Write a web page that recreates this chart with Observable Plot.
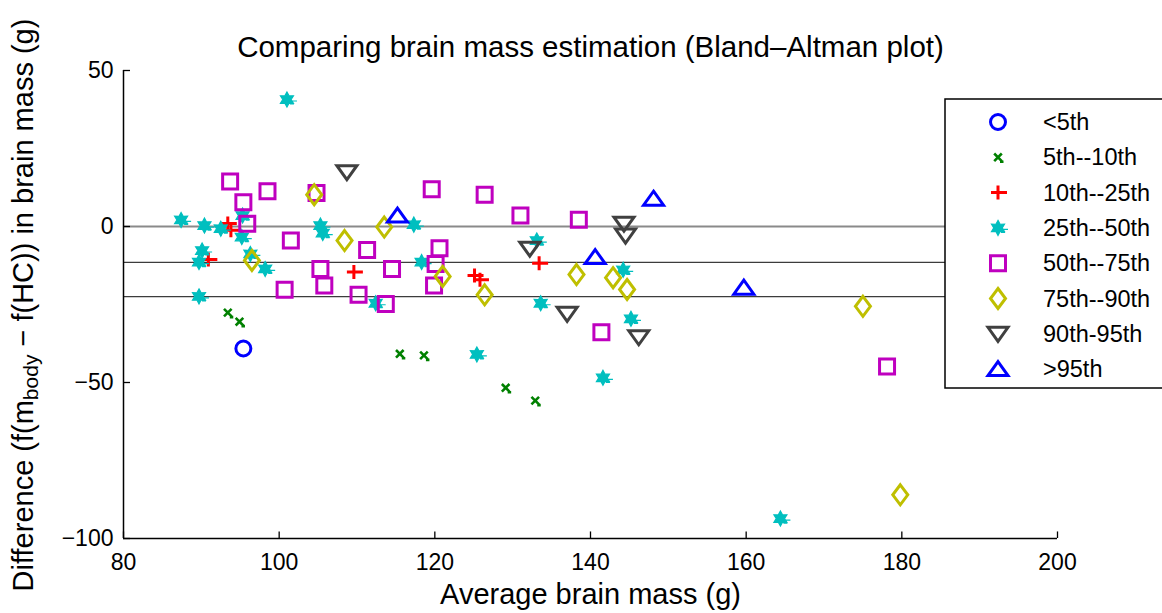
<!DOCTYPE html>
<html>
<head>
<meta charset="utf-8">
<script src="https://cdn.jsdelivr.net/npm/d3@7"></script>
<script src="https://cdn.jsdelivr.net/npm/@observablehq/plot@0.6"></script>
<style>
  html, body { margin: 0; padding: 0; background: #fff; }
  #chart { position: relative; width: 1162px; height: 613px; overflow: hidden; }
</style>
</head>
<body>
<div id="chart"></div>
<script>
// ---------- data ----------
const xTicks = [80, 100, 120, 140, 160, 180, 200];
const yTicks = [-100, -50, 0, 50];
const refLines = [0, -11.5, -22.5];

const seriesNames = ["<5th", "5th--10th", "10th--25th", "25th--50th", "50th--75th", "75th--90th", "90th-95th", ">95th"];

const below5 = [[95.4, -39.1]];
const p5to10 = [[93.4, -27.6], [94.9, -30.5], [115.5, -40.8], [118.6, -41.3], [129.1, -51.7], [132.9, -55.8]];
const p10to25 = [[93.4, 1.0], [93.8, -1.2], [90.9, -10.6], [109.6, -14.6], [125.1, -15.7], [125.8, -17.1], [133.4, -11.8]];
const p25to50 = [[87.4, 2.1], [90.4, 0.3], [92.5, -0.7], [95.3, 3.5], [95.2, -3.4], [90.1, -7.7], [89.7, -11.4],
  [96.3, -8.8], [98.2, -13.6], [89.7, -22.4], [101.0, 40.7], [105.3, 0.3], [105.6, -2.1], [117.3, 0.6],
  [118.3, -11.4], [112.4, -24.6], [133.1, -4.5], [144.2, -13.9], [133.6, -24.6], [145.2, -29.6],
  [125.4, -41.0], [141.6, -48.5], [164.4, -93.6]];
const p50to75 = [[93.7, 14.4], [95.4, 7.8], [98.5, 11.3], [95.9, 0.9], [101.5, -4.5], [104.8, 10.7], [111.3, -7.5],
  [119.6, 11.9], [120.6, -7.0], [105.3, -13.6], [105.8, -18.9], [114.5, -13.6], [100.7, -20.3], [110.2, -21.9],
  [113.7, -24.8], [120.1, -12.0], [119.9, -18.9], [126.4, 10.2], [131.0, 3.5], [138.5, 2.2], [141.4, -33.9],
  [178.1, -44.9]];
const p75to90 = [[104.5, 10.2], [96.5, -10.9], [108.4, -4.5], [113.5, -0.2], [121.0, -16.0], [126.4, -21.9],
  [138.2, -15.4], [142.9, -16.4], [144.7, -20.2], [175.0, -25.6], [179.8, -86.0]];
const p90to95 = [[108.7, 17.4], [132.2, -7.1], [144.3, 0.9], [144.5, -2.9], [137.0, -28.0], [146.2, -35.5]];
const above95 = [[115.2, 3.5], [140.6, -9.8], [148.1, 8.9], [159.7, -19.6]];

const seriesPoints = [below5, p5to10, p10to25, p25to50, p50to75, p75to90, p90to95, above95];
const seriesColors = ["#0000ff", "#008000", "#ff0000", "#00bfbf", "#bf00bf", "#bfbf00", "#404040", "#0000ff"];

// ---------- marker shapes (MATLAB-like) ----------
const circleSym = {draw(c) { c.moveTo(7.5, 0); c.arc(0, 0, 7.5, 0, 2 * Math.PI); }};
const crossSym = {draw(c) { c.moveTo(-3.8, -3.8); c.lineTo(3.8, 3.8); c.moveTo(-3.8, 3.8); c.lineTo(3.8, -3.8); c.moveTo(2, 4.5); c.lineTo(5.5, 4.5); }};
const plusSym = {draw(c) { c.moveTo(-7, 0); c.lineTo(9, 0); c.moveTo(0, -7); c.lineTo(0, 7); }};
const starSym = {draw(c) {
  const n = 6, ro = 7.5, ri = 4.2;
  for (let i = 0; i < 2 * n; i++) {
    const a = -Math.PI / 2 + i * Math.PI / n, r = i % 2 ? ri : ro;
    const px = r * Math.cos(a), py = r * Math.sin(a);
    if (i === 0) c.moveTo(px, py); else c.lineTo(px, py);
  }
  c.closePath();
  c.moveTo(4, 1.5); c.lineTo(10, 1.5);
  c.moveTo(3, 4.5); c.lineTo(7, 4.5);
}};
const squareSym = {draw(c) { c.moveTo(-7.5, -7.5); c.lineTo(7.5, -7.5); c.lineTo(7.5, 7.5); c.lineTo(-7.5, 7.5); c.closePath(); }};
const diamondSym = {draw(c) { c.moveTo(0, -10); c.lineTo(7.5, 0); c.lineTo(0, 10); c.lineTo(-7.5, 0); c.closePath(); }};
const triDownSym = {draw(c) { c.moveTo(-10, -6.5); c.lineTo(10, -6.5); c.lineTo(0, 7.5); c.closePath(); }};
const triUpSym = {draw(c) { c.moveTo(0, -7.5); c.lineTo(10, 6.5); c.lineTo(-10, 6.5); c.closePath(); }};

const symbols = [circleSym, crossSym, plusSym, starSym, squareSym, diamondSym, triDownSym, triUpSym];
const strokeWidths = [3, 2.6, 3, 1.2, 3, 3, 3, 3];
const filled = [false, false, false, true, false, false, false, false];

// ---------- plot ----------
const font = "'Liberation Sans', Arial, Helvetica, sans-serif";
const dotMarks = seriesPoints.map((pts, i) => Plot.dot(pts, {
  x: d => d[0], y: d => d[1],
  symbol: symbols[i], r: 6,
  stroke: seriesColors[i],
  fill: filled[i] ? seriesColors[i] : "none",
  strokeWidth: strokeWidths[i],
  strokeLinecap: "butt"
}));

const chart = Plot.plot({
  width: 1162, height: 613,
  marginLeft: 123, marginRight: 105, marginTop: 70, marginBottom: 75,
  style: {fontFamily: font, fontSize: "23px", color: "#000", background: "#fff", overflow: "visible"},
  x: {domain: [80, 200]},
  y: {domain: [-100, 50]},
  marks: [
    Plot.ruleY([refLines[0]], {x1: 80, x2: 200, stroke: "#8a8a8a", strokeWidth: 2}),
    Plot.ruleY(refLines.slice(1), {x1: 80, x2: 200, stroke: "#3c3c3c", strokeWidth: 1.3}),
    Plot.ruleX([80], {y1: -100, y2: 50, stroke: "#000", strokeWidth: 1.5}),
    Plot.ruleY([-100], {x1: 80, x2: 200, stroke: "#000", strokeWidth: 1.5}),
    Plot.ruleX(xTicks, {y1: -100, y2: -97.9, stroke: "#000", strokeWidth: 1.3}),
    Plot.ruleY(yTicks, {x1: 80, x2: 80.9, stroke: "#000", strokeWidth: 1.3}),
    Plot.axisX({ticks: xTicks, tickSize: 0, tickPadding: 15, label: null, fontSize: 23}),
    Plot.axisY({ticks: yTicks, tickSize: 0, tickPadding: 10, label: null, fontSize: 23}),
    ...dotMarks,
    Plot.text(["Comparing brain mass estimation (Bland\u2013Altman plot)"], {frameAnchor: "top", dy: -34, fontSize: 29.5}),
    Plot.text(["Average brain mass (g)"], {frameAnchor: "bottom", dy: 65, fontSize: 29})
  ]
});

document.getElementById("chart").appendChild(chart);

// y-axis label with subscript
const svg = d3.select(chart);
const ylab = svg.append("text")
  .attr("transform", "translate(23,305) rotate(-90)")
  .attr("text-anchor", "middle")
  .attr("dominant-baseline", "central")
  .attr("font-family", font)
  .attr("font-size", 29)
  .attr("fill", "#000");
ylab.append("tspan").text("Difference (f(m");
ylab.append("tspan").attr("font-size", 21).attr("dy", 7).text("body");
ylab.append("tspan").attr("dy", -7).text(" \u2212 f(HC)) in brain mass (g)");

// legend
const lg = svg.append("g");
lg.append("rect").attr("x", 945).attr("y", 99).attr("width", 240).attr("height", 289)
  .attr("fill", "#fff").attr("stroke", "#000").attr("stroke-width", 1.5);
seriesNames.forEach((name, i) => {
  const cy = 122 + i * 35.3;
  const p = d3.path();
  symbols[i].draw(p, 36);
  lg.append("path").attr("d", p.toString())
    .attr("transform", `translate(998,${cy})`)
    .attr("fill", filled[i] ? seriesColors[i] : "none")
    .attr("stroke", seriesColors[i])
    .attr("stroke-width", strokeWidths[i]);
  lg.append("text").attr("x", 1043).attr("y", cy)
    .attr("text-anchor", "start")
    .attr("dominant-baseline", "central")
    .attr("font-family", font).attr("font-size", 23.5).attr("fill", "#000").text(name);
});
</script>
</body>
</html>
